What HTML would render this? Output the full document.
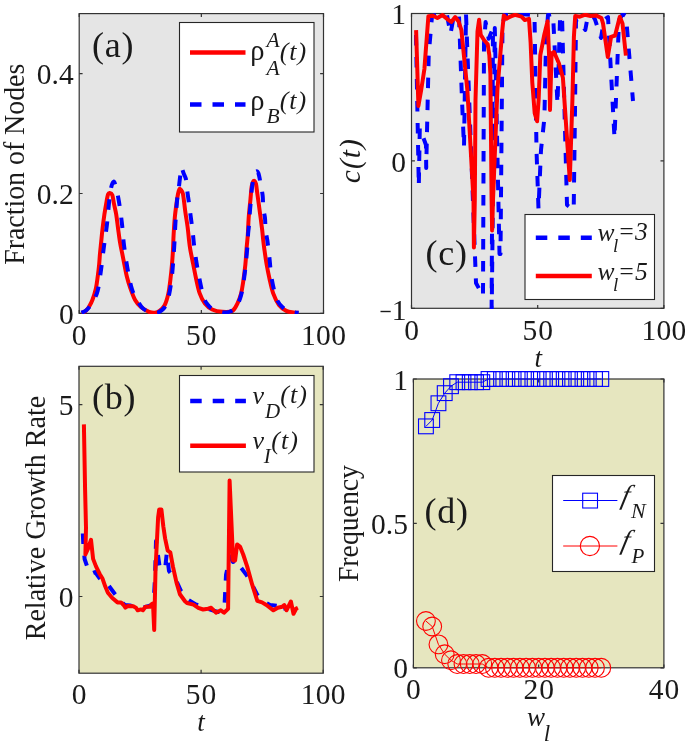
<!DOCTYPE html><html><head><meta charset="utf-8"><style>html,body{margin:0;padding:0;background:#fff;}svg{display:block}.t{font-family:"Liberation Serif", serif;font-size:29.5px;fill:#1a1a1a;letter-spacing:0.4px}.i{font-family:"Liberation Serif", serif;font-style:italic;font-size:29.5px;fill:#1a1a1a}.pl{font-family:"Liberation Serif", serif;font-size:36px;fill:#1a1a1a;letter-spacing:0.8px}</style></head><body><svg style="will-change:transform" width="685" height="745" viewBox="0 0 685 745">
<rect width="685" height="745" fill="#fff"/>
<rect x="79.2" y="13.6" width="244.3" height="299.79999999999995" fill="#e5e5e5"/>
<rect x="411.5" y="13.5" width="252.39999999999998" height="294.8" fill="#e5e5e5"/>
<rect x="79" y="366.3" width="244.2" height="306.90000000000003" fill="#e6e6bf"/>
<rect x="413.4" y="379" width="250.5" height="288.79999999999995" fill="#e6e6bf"/>
<rect x="79.2" y="13.6" width="244.3" height="299.79999999999995" fill="none" stroke="#333" stroke-width="1.2"/>
<path d="M79.20,313.4v-3.4M79.20,13.6v3.4M201.35,313.4v-3.4M201.35,13.6v3.4M323.50,313.4v-3.4M323.50,13.6v3.4M79.2,313.40h3.4M323.5,313.40h-3.4M79.2,193.48h3.4M323.5,193.48h-3.4M79.2,73.56h3.4M323.5,73.56h-3.4" stroke="#333" stroke-width="1.2" fill="none"/>
<rect x="411.5" y="13.5" width="252.39999999999998" height="294.8" fill="none" stroke="#333" stroke-width="1.2"/>
<path d="M411.50,308.3v-3.4M411.50,13.5v3.4M537.70,308.3v-3.4M537.70,13.5v3.4M663.90,308.3v-3.4M663.90,13.5v3.4M411.5,308.30h3.4M663.9,308.30h-3.4M411.5,160.90h3.4M663.9,160.90h-3.4M411.5,13.50h3.4M663.9,13.50h-3.4" stroke="#333" stroke-width="1.2" fill="none"/>
<rect x="79" y="366.3" width="244.2" height="306.90000000000003" fill="none" stroke="#333" stroke-width="1.2"/>
<path d="M79.00,673.2v-3.4M79.00,366.3v3.4M201.10,673.2v-3.4M201.10,366.3v3.4M323.20,673.2v-3.4M323.20,366.3v3.4M79,596.48h3.4M323.2,596.48h-3.4M79,404.66h3.4M323.2,404.66h-3.4" stroke="#333" stroke-width="1.2" fill="none"/>
<rect x="413.4" y="379" width="250.5" height="288.79999999999995" fill="none" stroke="#333" stroke-width="1.2"/>
<path d="M413.40,667.8v-3.4M413.40,379v3.4M538.65,667.8v-3.4M538.65,379v3.4M663.90,667.8v-3.4M663.90,379v3.4M413.4,667.80h3.4M663.9,667.80h-3.4M413.4,523.40h3.4M663.9,523.40h-3.4M413.4,379.00h3.4M663.9,379.00h-3.4" stroke="#333" stroke-width="1.2" fill="none"/>
<defs>
<clipPath id="clipa"><rect x="78.60000000000001" y="13.0" width="245.5" height="300.99999999999994"/></clipPath>
<clipPath id="clipb"><rect x="78.4" y="365.7" width="245.39999999999998" height="308.1"/></clipPath>
<clipPath id="clipc"><rect x="410.9" y="12.9" width="253.59999999999997" height="296.0"/></clipPath>
<clipPath id="clipd"><rect x="412.79999999999995" y="378.4" width="251.7" height="289.99999999999994"/></clipPath>
</defs>
<g clip-path="url(#clipa)" fill="none" stroke-linejoin="round">
<path d="M81.40,312.60 C81.83,312.52 83.23,312.43 84.00,312.10 C84.77,311.77 85.18,311.45 86.00,310.60 C86.82,309.75 87.83,308.77 88.90,307.00 C89.97,305.23 91.23,303.10 92.40,300.00 C93.57,296.90 95.02,292.28 95.90,288.40 C96.78,284.52 97.17,280.60 97.70,276.70 C98.23,272.80 98.72,268.88 99.10,265.00 C99.48,261.12 99.65,257.28 100.00,253.40 C100.35,249.52 100.80,245.60 101.20,241.70 C101.60,237.80 101.87,234.55 102.40,230.00 C102.93,225.45 103.70,219.18 104.40,214.40 C105.10,209.62 106.00,204.62 106.60,201.30 C107.20,197.98 107.48,195.88 108.00,194.50 C108.52,193.12 108.98,192.90 109.70,193.00 C110.42,193.10 111.58,193.28 112.30,195.10 C113.02,196.92 113.35,200.68 114.00,203.90 C114.65,207.12 115.53,210.38 116.20,214.40 C116.87,218.42 117.38,223.45 118.00,228.00 C118.62,232.55 119.20,237.47 119.90,241.70 C120.60,245.93 121.43,249.52 122.20,253.40 C122.97,257.28 123.72,261.12 124.50,265.00 C125.28,268.88 125.92,272.80 126.90,276.70 C127.88,280.60 129.03,284.52 130.40,288.40 C131.77,292.28 133.35,296.90 135.10,300.00 C136.85,303.10 138.57,305.03 140.90,307.00 C143.23,308.97 146.75,310.85 149.10,311.80 C151.45,312.75 153.25,312.85 155.00,312.70 C156.75,312.55 157.98,312.17 159.60,310.90 C161.22,309.63 163.23,308.02 164.70,305.10 C166.17,302.18 167.43,297.78 168.40,293.40 C169.37,289.02 169.90,283.67 170.50,278.80 C171.10,273.93 171.58,269.07 172.00,264.20 C172.42,259.33 172.73,254.47 173.00,249.60 C173.27,244.73 173.30,240.33 173.60,235.00 C173.90,229.67 174.32,222.85 174.80,217.60 C175.28,212.35 175.97,207.43 176.50,203.50 C177.03,199.57 177.52,196.38 178.00,194.00 C178.48,191.62 178.90,189.87 179.40,189.20 C179.90,188.53 180.40,189.17 181.00,190.00 C181.60,190.83 182.28,190.58 183.00,194.20 C183.72,197.82 184.53,206.25 185.30,211.70 C186.07,217.15 186.98,222.18 187.60,226.90 C188.22,231.62 188.55,236.22 189.00,240.00 C189.45,243.78 189.60,245.57 190.30,249.60 C191.00,253.63 192.23,259.33 193.20,264.20 C194.17,269.07 195.02,273.93 196.10,278.80 C197.18,283.67 198.23,289.27 199.70,293.40 C201.17,297.53 202.82,300.92 204.90,303.60 C206.98,306.28 209.28,308.13 212.20,309.50 C215.12,310.87 219.05,311.57 222.40,311.80 C225.75,312.03 229.80,312.27 232.30,310.90 C234.80,309.53 235.93,306.52 237.40,303.60 C238.87,300.68 240.13,297.05 241.10,293.40 C242.07,289.75 242.48,286.57 243.20,281.70 C243.92,276.83 244.82,269.98 245.40,264.20 C245.98,258.42 246.30,251.87 246.70,247.00 C247.10,242.13 247.47,239.90 247.80,235.00 C248.13,230.10 248.27,223.43 248.70,217.60 C249.13,211.77 249.92,205.10 250.40,200.00 C250.88,194.90 251.17,190.00 251.60,187.00 C252.03,184.00 252.52,183.03 253.00,182.00 C253.48,180.97 254.00,180.47 254.50,180.80 C255.00,181.13 255.52,181.77 256.00,184.00 C256.48,186.23 256.77,189.58 257.40,194.20 C258.03,198.82 259.02,205.87 259.80,211.70 C260.58,217.53 261.53,224.48 262.10,229.20 C262.67,233.92 262.82,236.60 263.20,240.00 C263.58,243.40 263.83,245.57 264.40,249.60 C264.97,253.63 265.75,259.33 266.60,264.20 C267.45,269.07 268.40,273.93 269.50,278.80 C270.60,283.67 271.62,289.02 273.20,293.40 C274.78,297.78 276.82,302.18 279.00,305.10 C281.18,308.02 283.87,309.68 286.30,310.90 C288.73,312.12 291.57,312.10 293.60,312.40 C295.63,312.70 297.68,312.65 298.50,312.70" stroke="#ff0000" stroke-width="4.0"/>
<path d="M81.40,312.60 C82.17,312.27 84.23,312.20 86.00,310.60 C87.77,309.00 90.05,306.32 92.00,303.00 C93.95,299.68 96.17,296.45 97.70,290.70 C99.23,284.95 100.13,276.08 101.20,268.50 C102.27,260.92 103.13,252.62 104.10,245.20 C105.07,237.78 106.15,231.32 107.00,224.00 C107.85,216.68 108.48,207.47 109.20,201.30 C109.92,195.13 110.57,190.28 111.30,187.00 C112.03,183.72 112.88,181.77 113.60,181.60 C114.32,181.43 114.72,182.72 115.60,186.00 C116.48,189.28 117.85,195.10 118.90,201.30 C119.95,207.50 121.05,215.88 121.90,223.20 C122.75,230.52 123.07,237.65 124.00,245.20 C124.93,252.75 126.15,261.10 127.50,268.50 C128.85,275.90 130.22,283.85 132.10,289.60 C133.98,295.35 136.98,299.85 138.80,303.00 C140.62,306.15 141.13,306.97 143.00,308.50 C144.87,310.03 147.67,311.48 150.00,312.20 C152.33,312.92 155.17,313.03 157.00,312.80 C158.83,312.57 159.58,311.93 161.00,310.80 C162.42,309.67 164.17,308.63 165.50,306.00 C166.83,303.37 168.00,299.33 169.00,295.00 C170.00,290.67 170.83,285.17 171.50,280.00 C172.17,274.83 172.58,269.00 173.00,264.00 C173.42,259.00 173.70,254.63 174.00,250.00 C174.30,245.37 174.57,240.63 174.80,236.20 C175.03,231.77 175.02,229.43 175.40,223.40 C175.78,217.37 176.62,205.25 177.10,200.00 C177.58,194.75 177.82,195.60 178.30,191.90 C178.78,188.20 179.58,181.28 180.00,177.80 C180.42,174.32 180.57,172.72 180.80,171.00 C181.03,169.28 181.17,167.83 181.40,167.50 C181.63,167.17 181.85,168.08 182.20,169.00 C182.55,169.92 182.88,171.33 183.50,173.00 C184.12,174.67 185.32,176.33 185.90,179.00 C186.48,181.67 186.52,185.20 187.00,189.00 C187.48,192.80 188.30,198.12 188.80,201.80 C189.30,205.48 189.52,207.40 190.00,211.10 C190.48,214.80 191.22,220.20 191.70,224.00 C192.18,227.80 192.42,229.63 192.90,233.90 C193.38,238.17 193.70,243.08 194.60,249.60 C195.50,256.12 196.83,265.22 198.30,273.00 C199.77,280.78 201.78,290.97 203.40,296.30 C205.02,301.63 206.30,302.80 208.00,305.00 C209.70,307.20 210.77,308.25 213.60,309.50 C216.43,310.75 221.63,312.50 225.00,312.50 C228.37,312.50 231.62,310.98 233.80,309.50 C235.98,308.02 236.82,306.27 238.10,303.60 C239.38,300.93 240.52,297.60 241.50,293.50 C242.48,289.40 243.25,284.25 244.00,279.00 C244.75,273.75 245.42,267.67 246.00,262.00 C246.58,256.33 247.15,249.68 247.50,245.00 C247.85,240.32 247.80,237.70 248.10,233.90 C248.40,230.10 249.00,225.90 249.30,222.20 C249.60,218.50 249.62,215.48 249.90,211.70 C250.18,207.92 250.68,203.20 251.00,199.50 C251.32,195.80 251.33,193.42 251.80,189.50 C252.27,185.58 253.10,179.00 253.80,176.00 C254.50,173.00 255.22,171.92 256.00,171.50 C256.78,171.08 257.67,171.08 258.50,173.50 C259.33,175.92 260.30,182.25 261.00,186.00 C261.70,189.75 262.32,192.30 262.70,196.00 C263.08,199.70 262.92,204.52 263.30,208.20 C263.68,211.88 264.62,214.40 265.00,218.10 C265.38,221.80 265.20,226.60 265.60,230.40 C266.00,234.20 266.75,236.23 267.40,240.90 C268.05,245.57 268.78,252.08 269.50,258.40 C270.22,264.72 270.48,272.00 271.70,278.80 C272.92,285.60 274.85,294.33 276.80,299.20 C278.75,304.07 281.20,305.98 283.40,308.00 C285.60,310.02 288.05,310.57 290.00,311.30 C291.95,312.03 293.65,312.17 295.10,312.40 C296.55,312.63 298.10,312.65 298.70,312.70" stroke="#0000ff" stroke-width="4.0" stroke-dasharray="10.5 11.5"/>
</g>
<g clip-path="url(#clipc)" fill="none" stroke-linejoin="round">
<path d="M416.0,35.0 L418.8,186.0 L419.8,128.0 L426.0,145.0 L426.2,168.0 L428.7,55.0 L432.0,16.0 L440.0,14.0 L447.0,15.0 L450.5,34.0 L454.0,15.0 L459.0,16.0 L462.0,100.0 L464.0,147.0 L466.0,14.0 L476.0,283.0 L483.0,296.0 L484.0,44.0 L485.6,22.0 L488.7,38.8 L493.0,28.0 L491.5,330.0 L494.8,28.0 L499.5,254.0 L500.5,254.0 L502.5,25.0 L505.0,14.0 L520.0,14.0 L534.5,15.0 L536.5,150.0 L538.5,209.0 L541.0,150.0 L544.4,118.0 L546.0,42.0 L548.0,15.0 L553.0,14.0 L557.5,104.0 L560.0,20.0 L562.0,15.0 L567.0,205.0 L573.7,210.0 L575.0,110.0 L576.0,20.0 L578.6,19.0 L585.3,30.0 L588.0,15.0 L593.0,16.0 L595.0,19.5 L601.0,38.0 L604.0,20.0 L608.0,17.0 L614.5,138.0 L619.0,20.0 L623.0,14.0 L626.0,16.0 L633.0,101.0" stroke="#0000ff" stroke-width="4.0" stroke-dasharray="10.5 11.5"/>
<path d="M416.1,30.1 L418.4,106.0 L421.2,90.0 L424.4,69.0 L428.4,16.2 L433.0,15.8 L437.4,18.0 L442.5,15.1 L446.9,18.8 L451.3,22.0 L455.2,17.0 L458.6,21.5 L461.4,30.1 L463.4,50.3 L467.4,90.5 L473.5,200.0 L473.9,247.4 L474.8,200.0 L475.5,100.0 L477.5,31.5 L479.1,19.7 L480.7,34.7 L484.0,40.0 L487.7,44.3 L489.3,55.0 L490.4,74.4 L491.6,200.0 L492.1,230.4 L493.0,200.0 L497.4,90.0 L500.0,58.3 L502.2,31.5 L503.8,15.4 L506.5,18.6 L510.8,16.4 L515.0,14.8 L521.5,16.7 L524.8,20.0 L529.0,18.9 L530.6,42.3 L532.3,82.6 L534.7,113.2 L537.1,121.3 L538.7,98.7 L540.3,55.2 L544.4,34.2 L547.6,21.3 L549.2,58.4 L550.0,110.0 L551.6,53.5 L554.0,52.0 L558.9,63.2 L562.9,77.7 L564.4,100.0 L569.8,180.0 L572.4,100.0 L573.9,36.8 L575.2,16.0 L579.9,16.7 L585.3,14.7 L590.6,16.0 L596.0,15.4 L601.4,18.0 L603.0,23.4 L607.8,57.0 L611.1,36.8 L615.1,35.5 L619.8,16.7 L622.5,23.4 L625.9,55.6" stroke="#ff0000" stroke-width="4.0"/>
</g>
<g clip-path="url(#clipb)" fill="none" stroke-linejoin="round">
<path d="M82.8,533.5 L83.4,546.0 L84.6,559.0 L87.0,566.0 L89.0,571.0 L91.1,573.7 L95.1,572.0 L99.1,577.7 L104.0,582.0 L108.8,585.8 L115.3,594.5 L120.0,601.0 L125.0,605.0 L130.0,605.5 L137.0,607.5 L141.0,608.0 L149.0,606.0 L153.5,604.5 L155.0,578.0 L156.0,541.0 L159.5,566.0 L165.0,569.5 L166.8,553.0 L169.0,571.0 L173.0,576.0 L176.0,580.0 L181.0,591.0 L187.0,599.0 L195.0,604.0 L205.0,608.0 L218.0,612.0 L224.5,606.0 L226.0,575.0 L230.0,556.5 L233.0,562.0 L236.0,560.0 L240.2,566.6 L246.2,574.6 L252.2,584.7 L257.3,594.8 L263.0,601.0 L270.0,605.0 L278.0,606.0 L283.9,603.3 L285.7,610.3" stroke="#0000ff" stroke-width="4.0" stroke-dasharray="10.5 11.5"/>
<path d="M83.9,424.4 L85.1,490.0 L86.0,527.6 L85.4,554.5 L87.7,549.5 L91.0,539.8 L93.1,558.9 L96.0,566.4 L99.7,574.0 L102.6,578.8 L105.3,586.6 L107.9,592.8 L112.3,598.0 L117.5,602.4 L121.0,602.4 L123.6,605.0 L125.4,607.7 L128.0,605.9 L133.3,606.3 L135.9,607.7 L137.7,610.3 L141.2,609.4 L142.9,610.3 L145.5,606.8 L149.9,606.8 L151.7,604.2 L153.0,603.3 L154.2,630.0 L155.5,569.9 L158.1,517.5 L159.2,509.6 L161.4,509.6 L163.3,526.2 L165.1,538.4 L167.7,550.7 L170.3,552.4 L172.9,566.4 L176.4,582.1 L179.9,594.3 L185.0,601.3 L187.0,603.0 L193.5,604.6 L198.3,607.8 L203.1,609.5 L208.0,608.7 L211.2,607.8 L216.0,612.7 L220.8,610.3 L224.0,612.7 L228.1,608.9 L229.6,480.5 L233.1,560.5 L235.1,560.5 L237.1,544.4 L240.0,546.5 L243.2,554.5 L247.2,566.6 L252.2,584.7 L257.3,600.8 L262.0,602.4 L266.4,605.0 L273.4,610.3 L277.8,607.7 L282.2,606.8 L284.3,605.0 L286.5,610.3 L290.9,601.5 L293.5,613.8 L296.2,608.5 L297.9,607.7" stroke="#ff0000" stroke-width="4.0"/>
</g>
<g fill="none">
<path d="M425.9,426.4 L432.2,420.0 L438.4,403.3 L444.7,393.2 L451.0,386.2 L457.2,382.2 L463.5,382.2 L469.8,382.2 L476.0,382.2 L482.3,382.2 L488.5,379.0 L494.8,379.0 L501.1,379.0 L507.3,379.0 L513.6,379.0 L519.9,379.0 L526.1,379.0 L532.4,379.0 L538.6,379.0 L544.9,379.0 L551.2,379.0 L557.4,379.0 L563.7,379.0 L570.0,379.0 L576.2,379.0 L582.5,379.0 L588.8,379.0 L595.0,379.0 L601.3,379.0" stroke="#0000ff" stroke-width="1"/>
<path d="M425.9,621.0 L432.2,626.5 L438.4,644.4 L444.7,654.2 L451.0,660.3 L457.2,664.0 L463.5,664.0 L469.8,664.0 L476.0,664.0 L482.3,664.0 L488.5,667.8 L494.8,667.8 L501.1,667.8 L507.3,667.8 L513.6,667.8 L519.9,667.8 L526.1,667.8 L532.4,667.8 L538.6,667.8 L544.9,667.8 L551.2,667.8 L557.4,667.8 L563.7,667.8 L570.0,667.8 L576.2,667.8 L582.5,667.8 L588.8,667.8 L595.0,667.8 L601.3,667.8" stroke="#ff0000" stroke-width="1"/>
<g stroke="#0000ff" stroke-width="1.1"><rect x="418.52" y="418.96" width="14.8" height="14.8"/><rect x="424.79" y="412.61" width="14.8" height="14.8"/><rect x="431.05" y="395.86" width="14.8" height="14.8"/><rect x="437.31" y="385.75" width="14.8" height="14.8"/><rect x="443.57" y="378.82" width="14.8" height="14.8"/><rect x="449.84" y="374.78" width="14.8" height="14.8"/><rect x="456.10" y="374.78" width="14.8" height="14.8"/><rect x="462.36" y="374.78" width="14.8" height="14.8"/><rect x="468.62" y="374.78" width="14.8" height="14.8"/><rect x="474.89" y="374.78" width="14.8" height="14.8"/><rect x="481.15" y="371.60" width="14.8" height="14.8"/><rect x="487.41" y="371.60" width="14.8" height="14.8"/><rect x="493.68" y="371.60" width="14.8" height="14.8"/><rect x="499.94" y="371.60" width="14.8" height="14.8"/><rect x="506.20" y="371.60" width="14.8" height="14.8"/><rect x="512.46" y="371.60" width="14.8" height="14.8"/><rect x="518.73" y="371.60" width="14.8" height="14.8"/><rect x="524.99" y="371.60" width="14.8" height="14.8"/><rect x="531.25" y="371.60" width="14.8" height="14.8"/><rect x="537.51" y="371.60" width="14.8" height="14.8"/><rect x="543.77" y="371.60" width="14.8" height="14.8"/><rect x="550.04" y="371.60" width="14.8" height="14.8"/><rect x="556.30" y="371.60" width="14.8" height="14.8"/><rect x="562.56" y="371.60" width="14.8" height="14.8"/><rect x="568.83" y="371.60" width="14.8" height="14.8"/><rect x="575.09" y="371.60" width="14.8" height="14.8"/><rect x="581.35" y="371.60" width="14.8" height="14.8"/><rect x="587.61" y="371.60" width="14.8" height="14.8"/><rect x="593.88" y="371.60" width="14.8" height="14.8"/></g>
<g stroke="#ff0000" stroke-width="1.1"><circle cx="425.92" cy="621.01" r="9.4"/><circle cx="432.19" cy="626.50" r="9.4"/><circle cx="438.45" cy="644.41" r="9.4"/><circle cx="444.71" cy="654.23" r="9.4"/><circle cx="450.97" cy="660.29" r="9.4"/><circle cx="457.24" cy="664.05" r="9.4"/><circle cx="463.50" cy="664.05" r="9.4"/><circle cx="469.76" cy="664.05" r="9.4"/><circle cx="476.02" cy="664.05" r="9.4"/><circle cx="482.29" cy="664.05" r="9.4"/><circle cx="488.55" cy="667.80" r="9.4"/><circle cx="494.81" cy="667.80" r="9.4"/><circle cx="501.07" cy="667.80" r="9.4"/><circle cx="507.34" cy="667.80" r="9.4"/><circle cx="513.60" cy="667.80" r="9.4"/><circle cx="519.86" cy="667.80" r="9.4"/><circle cx="526.12" cy="667.80" r="9.4"/><circle cx="532.39" cy="667.80" r="9.4"/><circle cx="538.65" cy="667.80" r="9.4"/><circle cx="544.91" cy="667.80" r="9.4"/><circle cx="551.17" cy="667.80" r="9.4"/><circle cx="557.44" cy="667.80" r="9.4"/><circle cx="563.70" cy="667.80" r="9.4"/><circle cx="569.96" cy="667.80" r="9.4"/><circle cx="576.23" cy="667.80" r="9.4"/><circle cx="582.49" cy="667.80" r="9.4"/><circle cx="588.75" cy="667.80" r="9.4"/><circle cx="595.01" cy="667.80" r="9.4"/><circle cx="601.27" cy="667.80" r="9.4"/></g>
</g>
<text x="79.70" y="344.80" text-anchor="middle" class="t" style="letter-spacing:1.0px">0</text>
<text x="201.85" y="344.80" text-anchor="middle" class="t" style="letter-spacing:1.0px">50</text>
<text x="323.65" y="344.80" text-anchor="middle" class="t" style="letter-spacing:0.3px">100</text>
<text x="74.70" y="324.00" text-anchor="end" class="t" style="letter-spacing:1.0px">0</text>
<text x="73.70" y="204.08" text-anchor="end" class="t" style="letter-spacing:0px">0.2</text>
<text x="73.70" y="84.16" text-anchor="end" class="t" style="letter-spacing:0px">0.4</text>
<text x="412.00" y="339.60" text-anchor="middle" class="t" style="letter-spacing:1.0px">0</text>
<text x="538.20" y="339.60" text-anchor="middle" class="t" style="letter-spacing:1.0px">50</text>
<text x="664.05" y="339.60" text-anchor="middle" class="t" style="letter-spacing:0.3px">100</text>
<rect x="380.5" y="310.80" width="10.2" height="1.4" fill="#1a1a1a"/>
<text x="407.00" y="319.60" text-anchor="end" class="t">1</text>
<text x="407.00" y="171.50" text-anchor="end" class="t" style="letter-spacing:1.0px">0</text>
<text x="407.00" y="24.10" text-anchor="end" class="t" style="letter-spacing:1.0px">1</text>
<text x="79.50" y="704.20" text-anchor="middle" class="t" style="letter-spacing:1.0px">0</text>
<text x="201.60" y="704.20" text-anchor="middle" class="t" style="letter-spacing:1.0px">50</text>
<text x="323.35" y="704.20" text-anchor="middle" class="t" style="letter-spacing:0.3px">100</text>
<text x="74.50" y="607.08" text-anchor="end" class="t" style="letter-spacing:1.0px">0</text>
<text x="74.50" y="415.26" text-anchor="end" class="t" style="letter-spacing:1.0px">5</text>
<text x="413.90" y="699.40" text-anchor="middle" class="t" style="letter-spacing:1.0px">0</text>
<text x="539.15" y="699.40" text-anchor="middle" class="t" style="letter-spacing:1.0px">20</text>
<text x="664.40" y="699.40" text-anchor="middle" class="t" style="letter-spacing:1.0px">40</text>
<text x="408.90" y="678.40" text-anchor="end" class="t" style="letter-spacing:1.0px">0</text>
<text x="407.90" y="534.00" text-anchor="end" class="t" style="letter-spacing:0px">0.5</text>
<text x="408.90" y="389.60" text-anchor="end" class="t" style="letter-spacing:1.0px">1</text>
<text transform="translate(24,164.25) rotate(-90)" text-anchor="middle" class="t" style="letter-spacing:0" textLength="201" lengthAdjust="spacingAndGlyphs">Fraction of Nodes</text>
<text transform="translate(359.6,161.15) rotate(-90)" text-anchor="middle" class="i" textLength="44" lengthAdjust="spacing">c(t)</text>
<text transform="translate(44.6,518.05) rotate(-90)" text-anchor="middle" class="t" style="letter-spacing:0" textLength="244.5" lengthAdjust="spacingAndGlyphs">Relative Growth Rate</text>
<text transform="translate(358.2,523.55) rotate(-90)" text-anchor="middle" class="t" style="letter-spacing:0" textLength="117" lengthAdjust="spacingAndGlyphs">Frequency</text>
<text x="538.2" y="366.6" text-anchor="middle" class="i" style="font-size:27px">t</text>
<text x="201.0" y="731" text-anchor="middle" class="i" style="font-size:27px">t</text>
<text x="526.9" y="726.2" class="i" style="font-size:27px">w</text><text x="543.8" y="740.5" class="i" style="font-size:23px">l</text>
<text x="92" y="57" class="pl">(a)</text>
<text x="92" y="408.5" class="pl">(b)</text>
<text x="425.5" y="265.3" class="pl">(c)</text>
<text x="424.5" y="523" class="pl">(d)</text>
<rect x="179.5" y="22.5" width="134.5" height="109.5" fill="#fff" stroke="#262626" stroke-width="1.1"/>
<path d="M190,52.4H245.5" stroke="#ff0000" stroke-width="4.5"/>
<path d="M190,104.5H245.5" stroke="#0000ff" stroke-width="4.5" stroke-dasharray="11.5 11"/>
<text x="250.3" y="60.4" style='font-family:"Liberation Serif",serif;fill:#1a1a1a;font-size:28.5px'>ρ</text>
<text x="266.6" y="46.6" style='font-family:"Liberation Serif",serif;font-style:italic;fill:#1a1a1a;font-size:21.5px'>A</text>
<text x="266.6" y="74.6" style='font-family:"Liberation Serif",serif;font-style:italic;fill:#1a1a1a;font-size:21.5px'>A</text>
<text x="279.7" y="60.1" style='font-family:"Liberation Serif",serif;font-style:italic;fill:#1a1a1a;font-size:26px;letter-spacing:1px'>(t)</text>
<text x="250.3" y="109.7" style='font-family:"Liberation Serif",serif;fill:#1a1a1a;font-size:28.5px'>ρ</text>
<text x="266.6" y="123.4" style='font-family:"Liberation Serif",serif;font-style:italic;fill:#1a1a1a;font-size:21.5px'>B</text>
<text x="279.7" y="108.9" style='font-family:"Liberation Serif",serif;font-style:italic;fill:#1a1a1a;font-size:26px;letter-spacing:1px'>(t)</text>
<rect x="179.5" y="375.5" width="134.5" height="96.5" fill="#fff" stroke="#262626" stroke-width="1.1"/>
<path d="M190.2,401.1H245.9" stroke="#0000ff" stroke-width="4.5" stroke-dasharray="11.5 11"/>
<path d="M190.2,445.8H245.9" stroke="#ff0000" stroke-width="4.5"/>
<text x="252.4" y="403.6" style='font-family:"Liberation Serif",serif;font-style:italic;fill:#1a1a1a;font-size:26px'>v</text>
<text x="265.1" y="418.1" style='font-family:"Liberation Serif",serif;font-style:italic;fill:#1a1a1a;font-size:21px'>D</text>
<text x="280.3" y="403.3" style='font-family:"Liberation Serif",serif;font-style:italic;fill:#1a1a1a;font-size:26px;letter-spacing:1px'>(t)</text>
<text x="252.4" y="449.3" style='font-family:"Liberation Serif",serif;font-style:italic;fill:#1a1a1a;font-size:26px'>v</text>
<text x="263.8" y="463.4" style='font-family:"Liberation Serif",serif;font-style:italic;fill:#1a1a1a;font-size:21px'>I</text>
<text x="271.3" y="449" style='font-family:"Liberation Serif",serif;font-style:italic;fill:#1a1a1a;font-size:26px;letter-spacing:1px'>(t)</text>
<rect x="525" y="214.5" width="129.5" height="85.0" fill="#fff" stroke="#262626" stroke-width="1.1"/>
<path d="M535.8,237.8H591.8" stroke="#0000ff" stroke-width="4.5" stroke-dasharray="11.5 11"/>
<path d="M535.8,276.1H591.8" stroke="#ff0000" stroke-width="4.5"/>
<text x="597.5" y="240.5" style='font-family:"Liberation Serif",serif;font-style:italic;fill:#1a1a1a;font-size:25.5px'>w</text>
<text x="613.1" y="252.4" style='font-family:"Liberation Serif",serif;font-style:italic;fill:#1a1a1a;font-size:19px'>l</text>
<text x="617.7" y="240.2" style='font-family:"Liberation Serif",serif;font-style:italic;fill:#1a1a1a;font-size:25.5px'>=3</text>
<text x="597.5" y="279.5" style='font-family:"Liberation Serif",serif;font-style:italic;fill:#1a1a1a;font-size:25.5px'>w</text>
<text x="613.1" y="291.4" style='font-family:"Liberation Serif",serif;font-style:italic;fill:#1a1a1a;font-size:19px'>l</text>
<text x="617.7" y="279.5" style='font-family:"Liberation Serif",serif;font-style:italic;fill:#1a1a1a;font-size:25.5px'>=5</text>
<rect x="552.5" y="475.5" width="102.0" height="96.0" fill="#fff" stroke="#262626" stroke-width="1.1"/>
<path d="M563.2,500.5H617.4" stroke="#0000ff" stroke-width="1"/>
<rect x="582.7" y="493.2" width="14.8" height="14.8" fill="none" stroke="#0000ff" stroke-width="1.1"/>
<path d="M563.2,546H617.4" stroke="#ff0000" stroke-width="1"/>
<circle cx="589.9" cy="546" r="9.6" fill="none" stroke="#ff0000" stroke-width="1.1"/>
<text transform="translate(620.2,504) skewX(-13)" style='font-family:"Liberation Serif",serif;font-style:italic;fill:#1a1a1a;font-size:27.5px'>f</text>
<text x="630.9" y="517.9" style='font-family:"Liberation Serif",serif;font-style:italic;fill:#1a1a1a;font-size:22px'>N</text>
<text transform="translate(620.2,549.4) skewX(-13)" style='font-family:"Liberation Serif",serif;font-style:italic;fill:#1a1a1a;font-size:27.5px'>f</text>
<text x="631.4" y="562.6" style='font-family:"Liberation Serif",serif;font-style:italic;fill:#1a1a1a;font-size:21px'>P</text>
</svg></body></html>
